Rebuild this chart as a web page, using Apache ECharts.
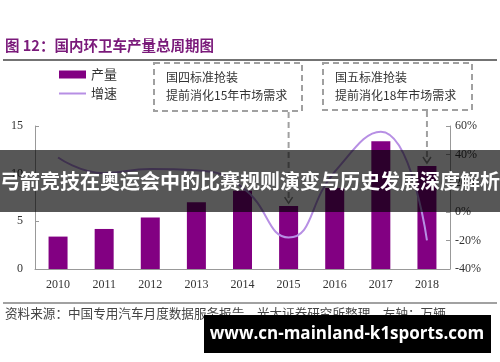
<!DOCTYPE html>
<html>
<head>
<meta charset="utf-8">
<script src="https://cdn.jsdelivr.net/npm/echarts@6/dist/echarts.min.js"></script>
<style>html,body{margin:0;padding:0;background:#fff;}#c{width:500px;height:362px;}</style>
</head>
<body>
<div id="c"></div>
<script>
const years = ['2010','2011','2012','2013','2014','2015','2016','2017','2018'];
const production = [3.4, 4.2, 5.4, 7.0, 8.2, 6.6, 8.5, 13.4, 10.8];
const growth = [38, 27, 30, 29, 17, -18, 28, 56, -20];
const leftTicks = {min: 0, max: 15, interval: 5};
const rightTicks = {min: -40, max: 60, interval: 20};

const cjk = '"Noto Sans CJK SC", sans-serif';
const serif = '"Liberation Serif", "DejaVu Serif", serif';

const chart = echarts.init(document.getElementById('c'));
chart.setOption({
  animation: false,
  backgroundColor: '#fff',
  grid: {left: 35, right: 50, top: 126, bottom: 93},
  legend: {
    orient: 'vertical', left: 53, top: 63, itemWidth: 27, itemHeight: 8, itemGap: 6,
    textStyle: {fontFamily: cjk, fontSize: 13, color: '#333'},
    data: [{name: '产量', icon: 'rect'}, {name: '增速', itemStyle: {opacity: 0}}]
  },
  xAxis: {
    type: 'category', data: years,
    axisLine: {lineStyle: {color: '#999'}},
    axisTick: {show: false},
    axisLabel: {fontFamily: serif, fontSize: 12, color: '#333', margin: 10}
  },
  yAxis: [{
    type: 'value', min: leftTicks.min, max: leftTicks.max, interval: leftTicks.interval,
    axisLine: {show: true, lineStyle: {color: '#999'}},
    axisTick: {show: true, inside: true, length: 4, lineStyle: {color: '#999'}},
    splitLine: {show: false},
    axisLabel: {fontFamily: serif, fontSize: 12, color: '#333', margin: 12}
  }, {
    type: 'value', position: 'right', min: rightTicks.min, max: rightTicks.max, interval: rightTicks.interval,
    axisLine: {show: true, lineStyle: {color: '#999'}},
    axisTick: {show: true, inside: true, length: 4, lineStyle: {color: '#999'}},
    splitLine: {show: false},
    axisLabel: {fontFamily: serif, fontSize: 12, color: '#333', margin: 5, formatter: '{value}%'}
  }],
  series: [{
    name: '产量', type: 'bar', data: production, barWidth: 19, yAxisIndex: 0,
    itemStyle: {color: '#820082'}
  }, {
    name: '增速', type: 'line', data: growth, yAxisIndex: 1, smooth: 0.5,
    symbol: 'none', lineStyle: {color: '#b78fe4', width: 2}, itemStyle: {color: '#b78fe4'}
  }]
});

// annotation arrows anchored to bars
const a1 = chart.convertToPixel({seriesIndex: 0}, [years[5], production[5]]);
const a2 = chart.convertToPixel({seriesIndex: 0}, [years[8], production[8]]);
const dash = {stroke: '#a0a0a0', lineWidth: 2, lineDash: [6, 4]};
function arrow(x, y0, y1) {
  return [
    {type: 'line', z: 50, shape: {x1: x, y1: y0, x2: x, y2: y1}, style: dash},
    {type: 'polyline', z: 50, shape: {points: [[x - 4, y1 - 6], [x, y1], [x + 4, y1 - 6]]}, style: {stroke: '#888', lineWidth: 1.5, fill: null}}
  ];
}

chart.setOption({
  graphic: [
    {type: 'text', z: 60, left: 5, top: 38, style: {text: '图 12：国内环卫车产量总周期图', fontFamily: cjk, fontSize: 14.5, fontWeight: 'bold', fill: '#7a1a7a'}},
    {type: 'line', z: 60, shape: {x1: 3, y1: 60, x2: 497, y2: 60}, style: {stroke: '#444', lineWidth: 1.5}},
    {type: 'rect', z: 50, shape: {x: 154, y: 63, width: 148, height: 48}, style: {fill: null, ...dash}},
    {type: 'text', z: 50, x: 166, y: 77, style: {text: '国四标准抢装', fontFamily: cjk, fontSize: 12, fill: '#333', verticalAlign: 'middle'}},
    {type: 'text', z: 50, x: 166, y: 95, style: {text: '提前消化15年市场需求', fontFamily: cjk, fontSize: 12, fill: '#333', verticalAlign: 'middle'}},
    {type: 'rect', z: 50, shape: {x: 323, y: 63, width: 149, height: 47}, style: {fill: null, ...dash}},
    {type: 'text', z: 50, x: 335, y: 77, style: {text: '国五标准抢装', fontFamily: cjk, fontSize: 12, fill: '#333', verticalAlign: 'middle'}},
    {type: 'text', z: 50, x: 335, y: 95, style: {text: '提前消化18年市场需求', fontFamily: cjk, fontSize: 12, fill: '#333', verticalAlign: 'middle'}},
    ...arrow(a1[0], 112, a1[1] - 3),
    ...arrow(a2[0], 111, a2[1] - 3),
    {type: 'line', z: 60, shape: {x1: 3, y1: 303, x2: 497, y2: 303}, style: {stroke: '#444', lineWidth: 1.2}},
    {type: 'text', z: 60, x: 5, y: 313, style: {text: '资料来源：中国专用汽车月度数据服务报告，光大证券研究所整理，左轴：万辆', fontFamily: cjk, fontSize: 12.6, fill: '#444', verticalAlign: 'middle'}},
    {type: 'rect', z: 100, shape: {x: 0, y: 150, width: 500, height: 62}, style: {fill: 'rgba(0,0,0,0.66)'}},
    {type: 'text', z: 101, x: 250, y: 181, style: {text: '弓箭竞技在奥运会中的比赛规则演变与历史发展深度解析', fontFamily: cjk, fontSize: 20, fontWeight: 'bold', fill: '#fff', align: 'center', verticalAlign: 'middle'}},
    {type: 'rect', z: 100, shape: {x: 204, y: 315, width: 287, height: 38}, style: {fill: '#000'}},
    {type: 'text', z: 101, x: 347, y: 334, style: {text: 'www.cn-mainland-k1sports.com', fontFamily: '"Open Sans", "DejaVu Sans", sans-serif', fontSize: 17, fontWeight: 'bold', fill: '#fff', align: 'center', verticalAlign: 'middle'}}
  ]
});
</script>
</body>
</html>
